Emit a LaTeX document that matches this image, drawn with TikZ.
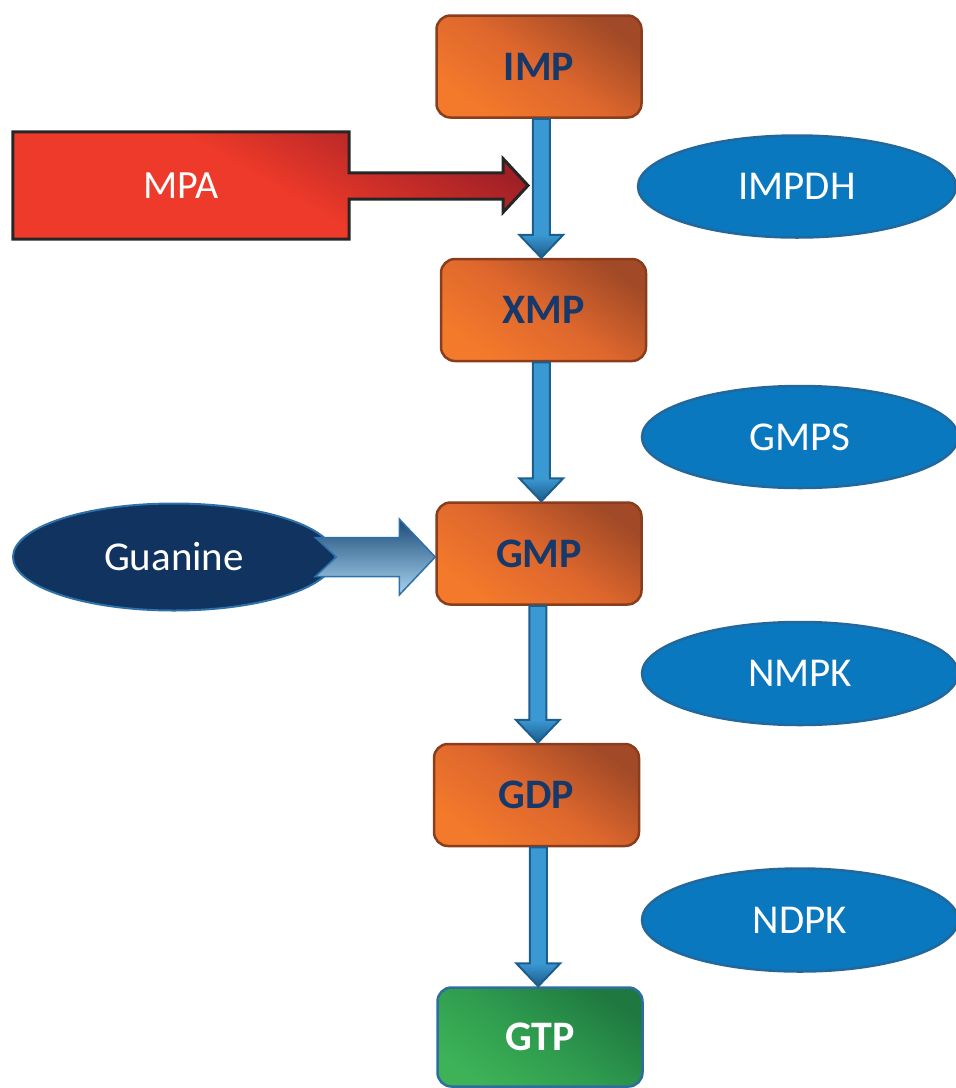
\documentclass[tikz,border=0pt]{standalone}
\usepackage{fontspec}
\setmainfont{Carlito}
\usetikzlibrary{calc,shapes.geometric}
\definecolor{boxdark}{HTML}{A24A27}
\definecolor{boxmid}{HTML}{DE672D}
\definecolor{boxlight}{HTML}{F47A2B}
\definecolor{boxline}{HTML}{8A3D1D}
\definecolor{boxtext}{HTML}{16396A}
\definecolor{gtpdark}{HTML}{1F7840}
\definecolor{gtpmid}{HTML}{2E9A4E}
\definecolor{gtplight}{HTML}{3DB257}
\definecolor{gtpline}{HTML}{2D6E9E}
\definecolor{ellfill}{HTML}{0A78BE}
\definecolor{ellline}{HTML}{22689C}
\definecolor{guafill}{HTML}{10335F}
\definecolor{gualine}{HTML}{2E70A8}
\definecolor{shaftfill}{HTML}{3A98D3}
\definecolor{shaftline}{HTML}{1C5E8E}
\definecolor{headdark}{HTML}{1D5A88}
\definecolor{mpalight}{HTML}{EE3A2A}
\definecolor{mpadark}{HTML}{A02026}
\definecolor{gardark}{HTML}{1B4A78}
\definecolor{garlight}{HTML}{A9D5EF}
\newcommand\vflow[2]{%
  \path let \p1=(#1.south), \p2=(#2.north), \p3=($(#1.south)!0.5!(#2.north)$) in
    [fill=shaftfill] (\x3-8.5pt,\y1) -- (\x3+8.5pt,\y1) -- (\x3+8.5pt,\y2+23pt) -- (\x3+22pt,\y2+23pt)
      -- (\x3,\y2) -- (\x3-22pt,\y2+23pt) -- (\x3-8.5pt,\y2+23pt) -- cycle;
  \path let \p1=(#1.south), \p2=(#2.north), \p3=($(#1.south)!0.5!(#2.north)$) in
    [top color=shaftfill, bottom color=headdark] (\x3+22pt,\y2+23pt) -- (\x3,\y2) -- (\x3-22pt,\y2+23pt) -- cycle;
  \path let \p1=(#1.south), \p2=(#2.north), \p3=($(#1.south)!0.5!(#2.north)$) in
    [draw=shaftline, line width=2pt, line join=miter] (\x3-8.5pt,\y1) -- (\x3+8.5pt,\y1) -- (\x3+8.5pt,\y2+23pt) -- (\x3+22pt,\y2+23pt)
      -- (\x3,\y2) -- (\x3-22pt,\y2+23pt) -- (\x3-8.5pt,\y2+23pt) -- cycle;}
\begin{document}
\begin{tikzpicture}[x=1pt,y=-1pt,
  box/.style={rectangle, rounded corners=14pt, draw=boxline, line width=2.5pt,
    top color=boxdark, bottom color=boxlight, middle color=boxmid, shading angle=-35,
    minimum width=205pt, minimum height=102pt,
    font=\fontsize{42}{50}\selectfont\bfseries, text=boxtext},
  gtpbox/.style={box, draw=gtpline, top color=gtpdark, bottom color=gtplight, middle color=gtpmid, shading angle=-35, text=white},
  enzyme/.style={ellipse, draw=ellline, line width=2.5pt, fill=ellfill,
    minimum width=316pt, minimum height=102pt, inner sep=0pt,
    font=\fontsize{41}{49}\selectfont, text=white}]
\useasboundingbox (0,0) rectangle (956,1088);

% boxes
\node[box] (imp) at (539,66.5) {IMP};
\node[box] (xmp) at (543.5,310) {XMP};
\node[box] (gmp) at (539,553.5) {GMP};
\node[box] (gdp) at (536.5,795) {GDP};
\node[gtpbox, minimum height=99pt] (gtp) at (540,1037) {GTP};

% enzymes
\node[enzyme, minimum width=318pt] (impdh) at (797,186.5) {IMPDH};
\node[enzyme] (gmps) at (800,437) {GMPS};
\node[enzyme, minimum height=103pt] (nmpk) at (800,673.5) {NMPK};
\node[enzyme, minimum height=103pt] (ndpk) at (800,920) {NDPK};

% vertical flow arrows
\vflow{imp}{xmp}
\vflow{xmp}{gmp}
\vflow{gmp}{gdp}
\vflow{gdp}{gtp}

% MPA inhibitor shape
\node[minimum width=336pt, minimum height=107pt, inner sep=0pt,
  font=\fontsize{40}{48}\selectfont, text=white] (mpa) at (181,185.5) {};
\coordinate (mpatip) at ($(mpa.east -| imp.south)+(-11,0)$);
\path[draw=black!85, line width=3pt, line join=miter,
  top color=mpadark, bottom color=mpalight, middle color=mpalight, shading angle=-30]
  (mpa.north west) -- (mpa.north east) -- ($(mpa.north east)+(0,41)$)
  -- ($(mpa.north east)+(154,41)$) -- ($(mpa.north east)+(154,27)$)
  -- (mpatip)
  -- ($(mpa.south east)+(154,-27)$) -- ($(mpa.south east)+(154,-40)$)
  -- ($(mpa.south east)+(0,-40)$) -- (mpa.south east) -- (mpa.south west) -- cycle;
\node[font=\fontsize{40}{48}\selectfont, text=white] at (mpa.center) {MPA};

% Guanine
\node[ellipse, draw=gualine, line width=2pt, fill=guafill,
  minimum width=322pt, minimum height=107pt, inner sep=0pt,
  font=\fontsize{41}{49}\selectfont, text=white] (gua) at (174,557) {Guanine};
\coordinate (guatip) at (gmp.west |- gua.center);
\path[draw=gualine, line width=1.5pt, line join=miter,
  top color=gardark, bottom color=garlight]
  ($(guatip)+(-120,-19.5)$) -- ($(guatip)+(-36,-19.5)$) -- ($(guatip)+(-36,-38)$)
  -- (guatip) -- ($(guatip)+(-36,38)$) -- ($(guatip)+(-36,19.5)$)
  -- ($(guatip)+(-120,19.5)$) -- ($(guatip)+(-99,0)$) -- cycle;
\end{tikzpicture}
\end{document}
